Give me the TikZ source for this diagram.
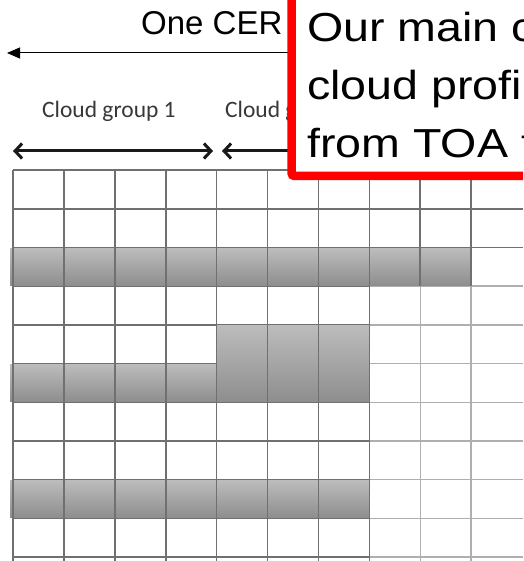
\documentclass[tikz,border=0pt]{standalone}
\usepackage{fontspec}
\setmainfont{Liberation Sans}
\newfontfamily\calibrifont{Carlito}
\usetikzlibrary{arrows.meta}

\definecolor{gridgray}{RGB}{112,112,112}
\definecolor{lightgridgray}{RGB}{175,175,175}
\definecolor{bandtop}{RGB}{188,188,188}
\definecolor{bandbot}{RGB}{142,142,142}
\definecolor{labelgray}{RGB}{55,55,55}
\definecolor{boxred}{RGB}{255,0,0}

\begin{document}
\begin{tikzpicture}[x=1pt, y=-1pt,
  gridline/.style = {draw=gridgray, line width=1.6pt},
  lightline/.style = {draw=lightgridgray, line width=1.4pt},
  cloudband/.style = {top color=bandtop, bottom color=bandbot, draw=none},
  grouplabel/.style = {font=\calibrifont\fontsize{23.5}{28}\selectfont,
    text=labelgray, anchor=base west, inner sep=0pt},
  cerlabel/.style = {font=\fontsize{33}{38}\selectfont, anchor=base west, inner sep=0pt},
  boxtext/.style = {font=\fontsize{40.5}{58}\selectfont, xscale=1.15,
    anchor=base west, inner sep=0pt},
  grouparrow/.style = {line width=3pt, draw=black!90},
  barb/.tip = {Straight Barb[length=7pt,width=15pt]}]

  \useasboundingbox (0,0) rectangle (523,561);
  \clip (0,0) rectangle (523,561);

  % horizontal grid lines
  \foreach \j in {0,1,2}
    \draw[gridline] (13,170+38.7*\j) -- (523,170+38.7*\j);
  \foreach \j in {3,...,10} {
    \draw[gridline] (13,170+38.7*\j) -- (369.3,170+38.7*\j);
    \draw[lightline] (369.3,170+38.7*\j) -- (523,170+38.7*\j);
  }

  % cloud layers
  \fill[cloudband] (10,248.2) rectangle (471.1,285.3);
  \fill[cloudband] (216.6,325.6) rectangle (369.3,401.4);
  \fill[cloudband] (10,364.3) rectangle (216.6,401.4);
  \fill[cloudband] (10,480.4) rectangle (369.3,517.5);

  % vertical grid lines
  \foreach \i in {0,...,7}
    \draw[gridline] (13+50.9*\i,170) -- (13+50.9*\i,561);
  \foreach \i in {8,9} {
    \draw[gridline] (13+50.9*\i,170) -- (13+50.9*\i,286.1);
    \draw[lightline] (13+50.9*\i,286.1) -- (13+50.9*\i,561);
  }

  % CER width
  \node[cerlabel] (cer) at (141,35) {One CER};
  \coordinate (cerleft) at (7,53);
  \coordinate (cerright) at (310,53);
  \draw[{Triangle[length=13pt,width=11pt]}-, line width=1pt] (cerleft) -- (cerright);

  % cloud groups
  \node[grouplabel] (group1) at (42,118) {Cloud group 1};
  \node[grouplabel] (group2) at (225,118) {Cloud g};
  \coordinate (g1left) at (13,151);
  \coordinate (g1right) at (213,151);
  \coordinate (g2left) at (222,151);
  \coordinate (g2right) at (310,151);
  \draw[grouparrow, barb-barb] (g1left) -- (g1right);
  \draw[grouparrow, barb-] (g2left) -- (g2right);

  % message box
  \draw[boxred, line width=8.5pt, fill=white, rounded corners=3pt]
    (291.5,-30) rectangle (600,176);
  \node[boxtext] (msg1) at (307,42) {Our main c};
  \node[boxtext] (msg2) at (307,100) {cloud profi};
  \node[boxtext] (msg3) at (307,158) {from TOA t};

\end{tikzpicture}
\end{document}
